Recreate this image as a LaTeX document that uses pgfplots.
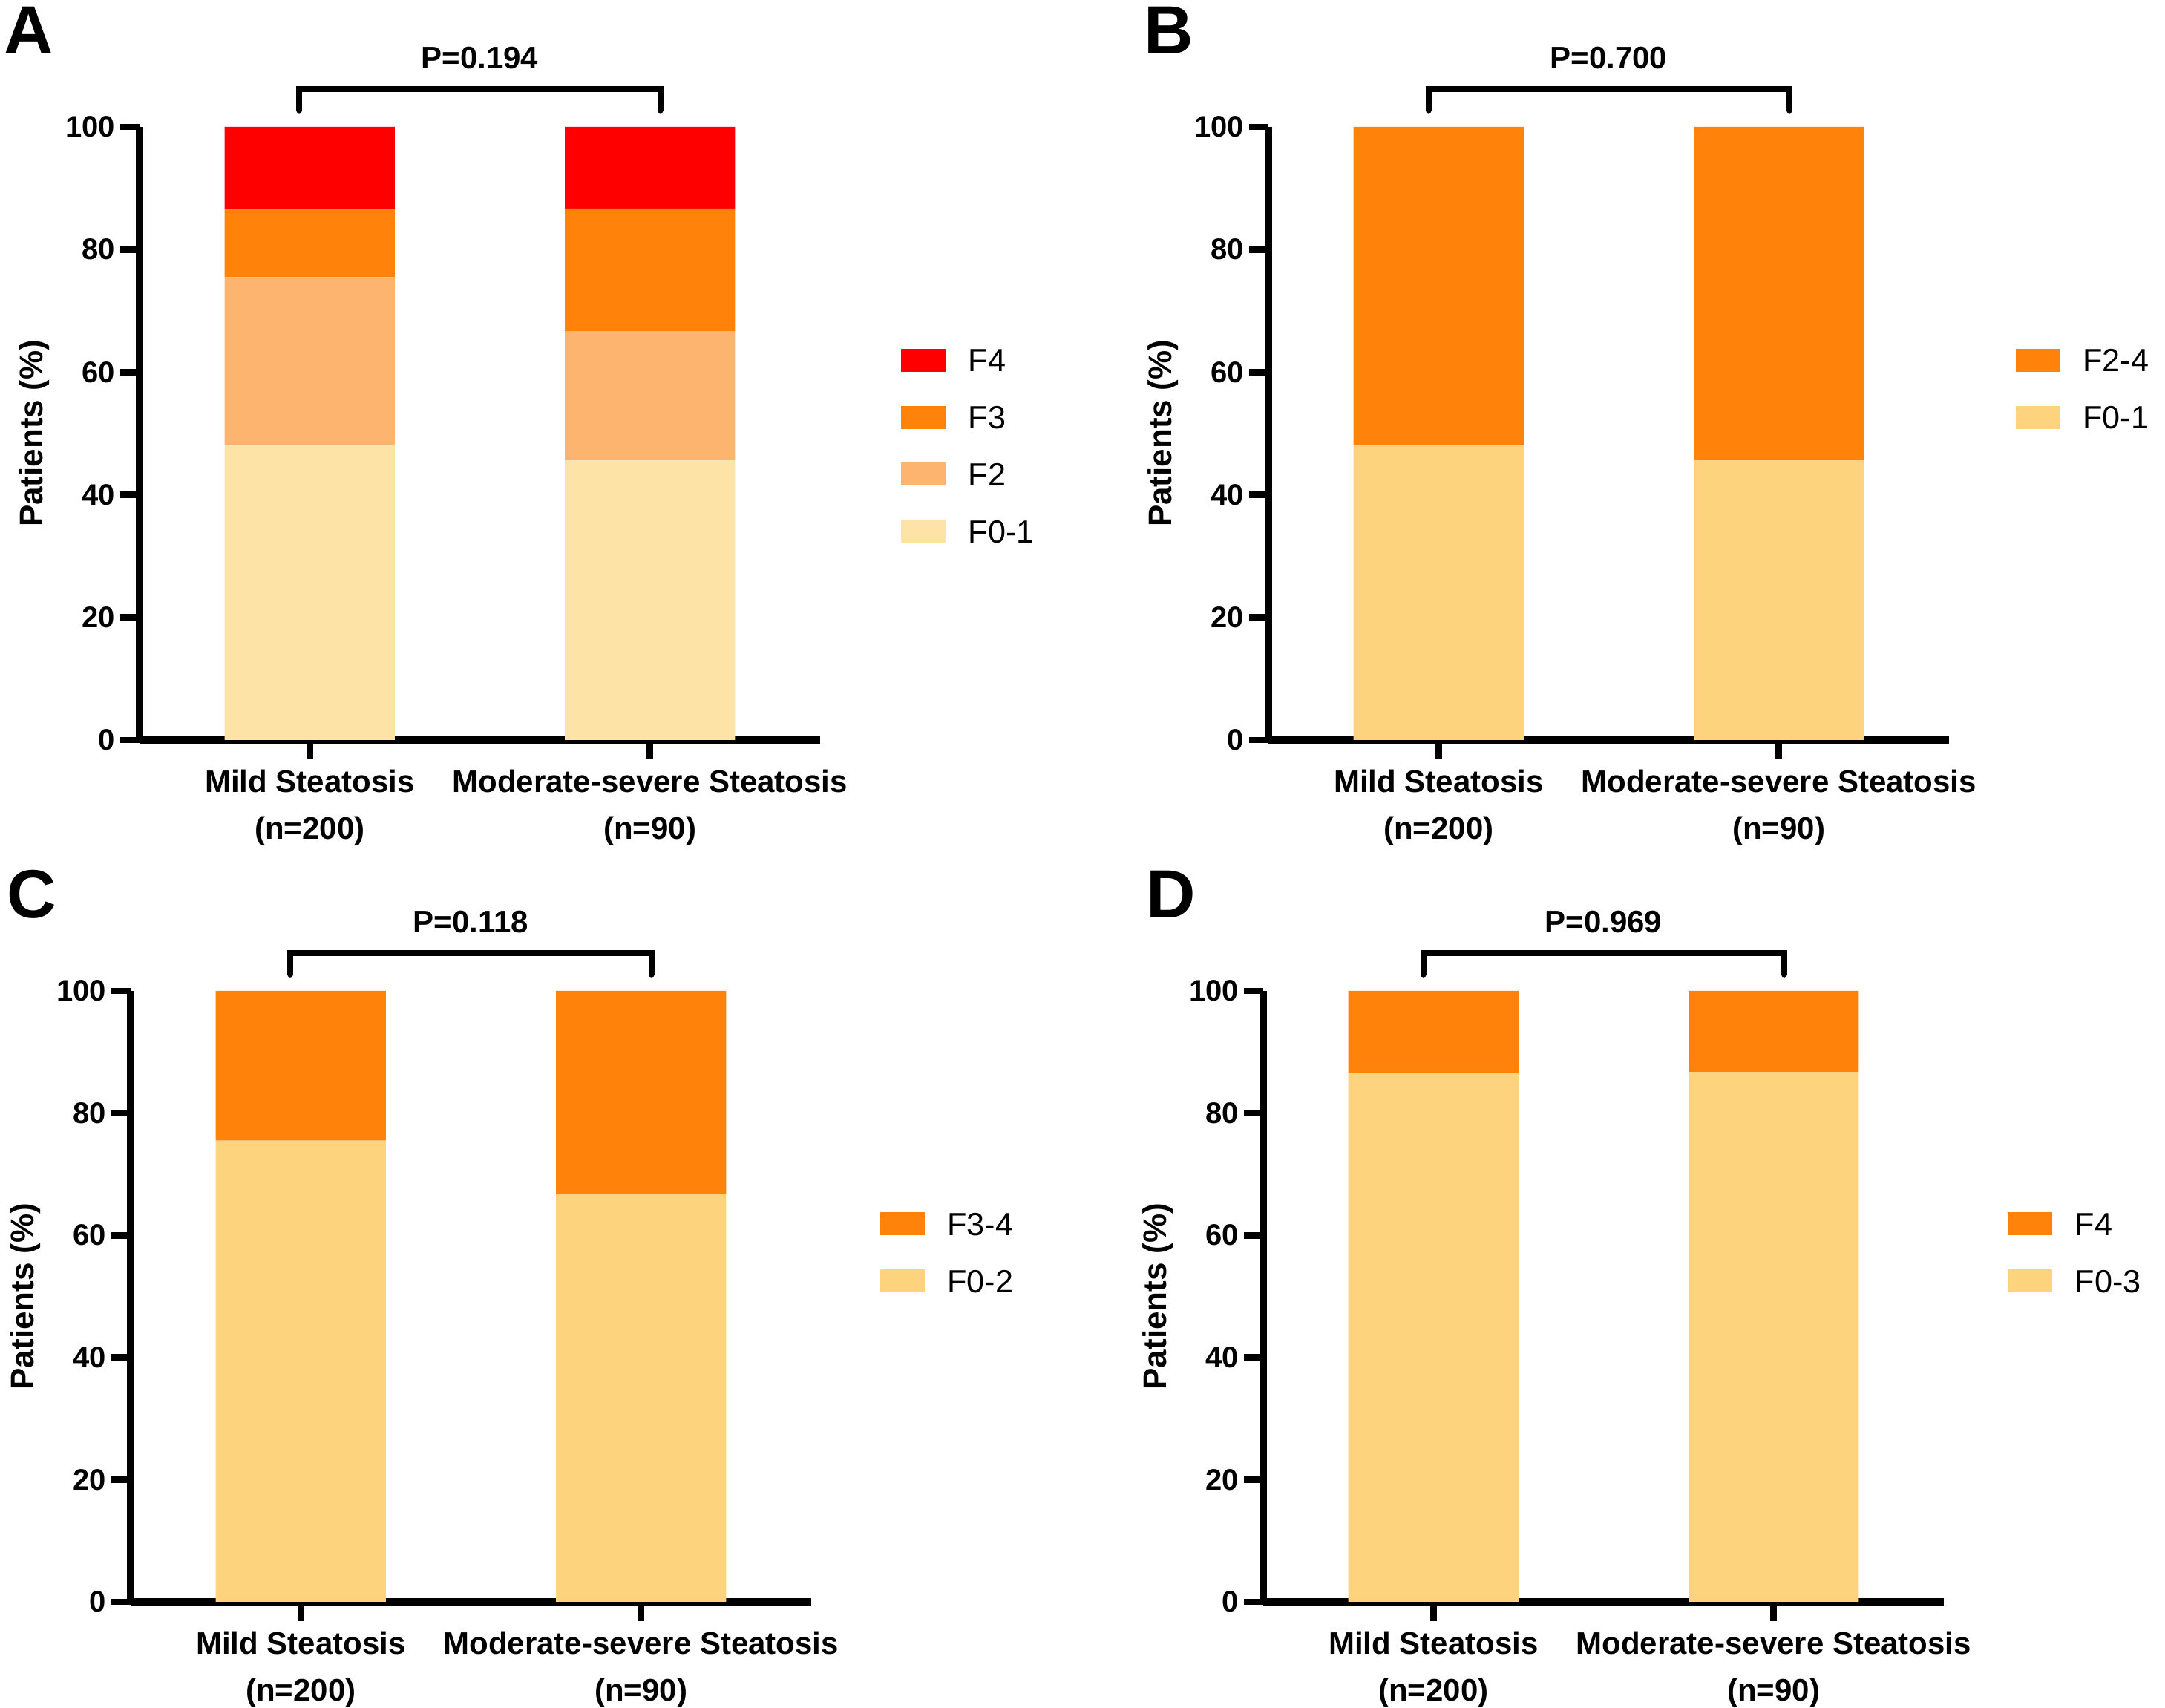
\documentclass[border=0pt]{standalone}
\usepackage{fontspec}
\setmainfont{Liberation Sans}
\usepackage{pgfplots}
\pgfplotsset{compat=1.18}

\definecolor{cF4}{RGB}{255,0,0}
\definecolor{cF3}{RGB}{255,131,10}
\definecolor{cF2}{RGB}{253,180,110}
\definecolor{cF01a}{RGB}{253,228,166}
\definecolor{cLow}{RGB}{253,211,125}

\tikzset{pval/.style={font=\bfseries\fontsize{10.5}{12}\selectfont, anchor=base}}

\pgfplotsset{
  steat/.style={
    scale only axis,
    width=229.25pt,
    ybar stacked, bar width=0.5,
    xmin=0.5, xmax=2.5, ymin=0, ymax=100,
    axis x line=bottom, axis y line=left,
    axis line style={-, line width=2.5pt},
    tick align=outside, major tick length=6.5pt,
    tick style={line width=2.2pt, black},
    ytick={0,20,...,100}, xtick={1,2},
    xticklabels={{Mild Steatosis\\(n=200)},{Moderate-severe Steatosis\\(n=90)}},
    /pgf/number format/assume math mode=true,
    yticklabel style={font=\bfseries\fontsize{10}{12}\selectfont, inner sep=1.5pt},
    xticklabel style={align=center, font=\bfseries\fontsize{10.5}{15.75}\selectfont},
    ylabel={Patients (\%)},
    ylabel style={font=\bfseries\fontsize{11}{13}\selectfont, at={(axis description cs:-0.155,0.5)}, anchor=center},
    clip=false,
    reverse legend,
    legend cell align=left,
    legend style={draw=none, fill=none, inner sep=0pt, anchor=west, row sep=11.5pt,
      font=\fontsize{10.8}{13}\selectfont,
      nodes={inner sep=0pt, text depth=0pt, text height=7.75pt},
      /tikz/every odd column/.append style={column sep=7.7pt}},
    every axis plot post/.append style={draw=none,
      legend image code/.code={\fill[##1,draw=none] (0pt,-3.875pt) rectangle (15pt,3.875pt);}},
  },
}

\newcommand{\bracket}[1]{%
  \draw[line width=2pt, line cap=round] (axis cs:0.97,102.7) -- (axis cs:0.97,106.2) -- (axis cs:2.03,106.2) -- (axis cs:2.03,102.7);
  \node[pval] at (axis cs:1.5,109.5) {#1};}

\begin{document}
\begin{tikzpicture}
\useasboundingbox (0,0) rectangle (729.25pt,575.25pt);

% panel letters
\node[anchor=base west, inner sep=0pt, font=\bfseries\fontsize{23}{26}\selectfont] at (1.25pt,557pt) {A};
\node[anchor=base west, inner sep=0pt, font=\bfseries\fontsize{23}{26}\selectfont] at (385.25pt,557pt) {B};
\node[anchor=base west, inner sep=0pt, font=\bfseries\fontsize{23}{26}\selectfont] at (2.25pt,266pt) {C};
\node[anchor=base west, inner sep=0pt, font=\bfseries\fontsize{23}{26}\selectfont] at (386pt,266pt) {D};

% A: F0-1, F2, F3, F4
\begin{axis}[steat, at={(47pt,326pt)}, anchor=origin, height=206.5pt,
  legend style={at={(axis description cs:1.118,0.48)}}]
\addplot[fill=cF01a] coordinates {(1,48.0) (2,45.6)};
\addplot[fill=cF2] coordinates {(1,27.5) (2,21.1)};
\addplot[fill=cF3] coordinates {(1,11.0) (2,20.0)};
\addplot[fill=cF4] coordinates {(1,13.5) (2,13.3)};
\legend{F0-1,F2,F3,F4}
\bracket{P=0.194}
\end{axis}

% B: F0-1, F2-4
\begin{axis}[steat, at={(427.25pt,326pt)}, anchor=origin, height=206.5pt,
  legend style={at={(axis description cs:1.097,0.573)}}]
\addplot[fill=cLow] coordinates {(1,48.0) (2,45.6)};
\addplot[fill=cF3] coordinates {(1,52.0) (2,54.4)};
\legend{F0-1,F2-4}
\bracket{P=0.700}
\end{axis}

% C: F0-2, F3-4
\begin{axis}[steat, at={(44pt,35.75pt)}, anchor=origin, height=205.75pt,
  legend style={at={(axis description cs:1.100,0.572)}}]
\addplot[fill=cLow] coordinates {(1,75.5) (2,66.7)};
\addplot[fill=cF3] coordinates {(1,24.5) (2,33.3)};
\legend{F0-2,F3-4}
\bracket{P=0.118}
\end{axis}

% D: F0-3, F4
\begin{axis}[steat, at={(425.5pt,35.75pt)}, anchor=origin, height=205.75pt,
  legend style={at={(axis description cs:1.093,0.572)}}]
\addplot[fill=cLow] coordinates {(1,86.5) (2,86.7)};
\addplot[fill=cF3] coordinates {(1,13.5) (2,13.3)};
\legend{F0-3,F4}
\bracket{P=0.969}
\end{axis}
\end{tikzpicture}
\end{document}
